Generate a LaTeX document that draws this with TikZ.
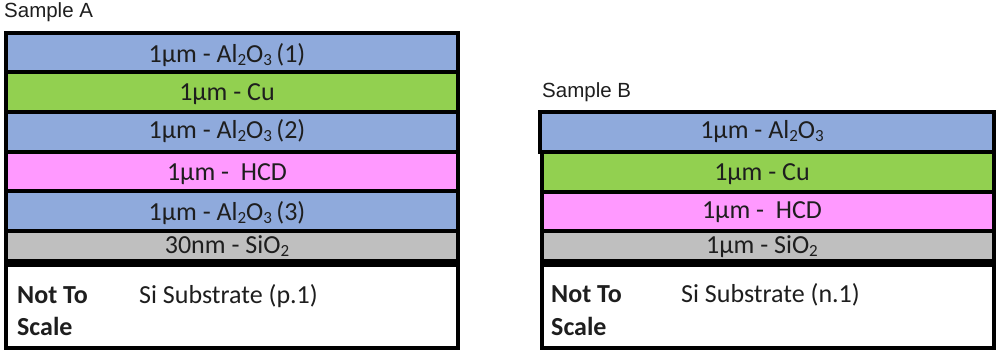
\documentclass[tikz,border=0pt]{standalone}
\usepackage{fontspec}
\setmainfont{Carlito}
\newfontfamily\labelfont{Liberation Sans}
\definecolor{layblue}{HTML}{8FAADC}
\definecolor{laygreen}{HTML}{92D050}
\definecolor{laypink}{HTML}{FF99FF}
\definecolor{laygray}{HTML}{BFBFBF}
\definecolor{inktext}{HTML}{1E1E1E}
\newcommand\lsub[1]{\raisebox{-3.3pt}{\fontsize{17}{17}\selectfont #1}}
\begin{document}
\begin{tikzpicture}[x=1pt,y=-1pt,
  layer/.style={line width=4pt, draw=black},
  laytext/.style={anchor=base, inner sep=0pt, text=inktext, font=\fontsize{26}{30}\selectfont},
  subtext/.style={anchor=base west, inner sep=0pt, text=inktext, font=\fontsize{26}{30}\selectfont},
  boldtext/.style={anchor=base west, inner sep=0pt, text=inktext, font=\fontsize{26}{30}\selectfont\bfseries},
  title/.style={anchor=base west, inner sep=0pt, text=inktext, font=\labelfont\fontsize{20.5}{24}\selectfont}]
\useasboundingbox (0,0) rectangle (996,351);
% Sample A
\node[title] (tA) at (4,17) {Sample A};
\draw[layer, fill=layblue]  (6,32.5) rectangle (458,72);
\draw[layer, fill=laygreen] (6,72) rectangle (458,112);
\draw[layer, fill=layblue]  (6,112) rectangle (458,152);
\draw[layer, fill=laypink]  (6,152) rectangle (458,191);
\draw[layer, fill=layblue]  (6,191) rectangle (458,231);
\draw[layer, fill=laygray]  (6,231) rectangle (458,261);
\draw[layer, fill=white]    (6,265) rectangle (458,347.5);
\node[laytext] (a1) at (227,62)  {1µm - Al\lsub{2}O\lsub{3}\,(1)};
\node[laytext] (a2) at (227,100) {1µm - Cu};
\node[laytext] (a3) at (227,138) {1µm - Al\lsub{2}O\lsub{3}\,(2)};
\node[laytext] (a4) at (227,180) {1µm -\ \ HCD};
\node[laytext] (a5) at (227,220) {1µm - Al\lsub{2}O\lsub{3}\,(3)};
\node[laytext] (a6) at (227,253) {30nm - SiO\lsub{2}};
\node[boldtext] (an1) at (17,303) {Not To};
\node[boldtext] (an2) at (17,335) {Scale};
\node[subtext] (as) at (139,303) {Si Substrate (p.1)};
% Sample B
\node[title] (tB) at (542,97) {Sample B};
\draw[layer, fill=layblue]  (540,112) rectangle (994,151.5);
\draw[layer, fill=laygreen] (541.5,151.5) rectangle (994,191.5);
\draw[layer, fill=laypink]  (541.5,191.5) rectangle (994,230.5);
\draw[layer, fill=laygray]  (541.5,230.5) rectangle (994,261);
\draw[layer, fill=white]    (541.5,265) rectangle (994,347.5);
\node[laytext] (b1) at (762,138) {1µm - Al\lsub{2}O\lsub{3}};
\node[laytext] (b2) at (762,180) {1µm - Cu};
\node[laytext] (b3) at (762,218) {1µm -\ \ HCD};
\node[laytext] (b4) at (762,253) {1µm - SiO\lsub{2}};
\node[boldtext] (bn1) at (551,302) {Not To};
\node[boldtext] (bn2) at (551,335) {Scale};
\node[subtext] (bs) at (681,302) {Si Substrate (n.1)};
\end{tikzpicture}
\end{document}
